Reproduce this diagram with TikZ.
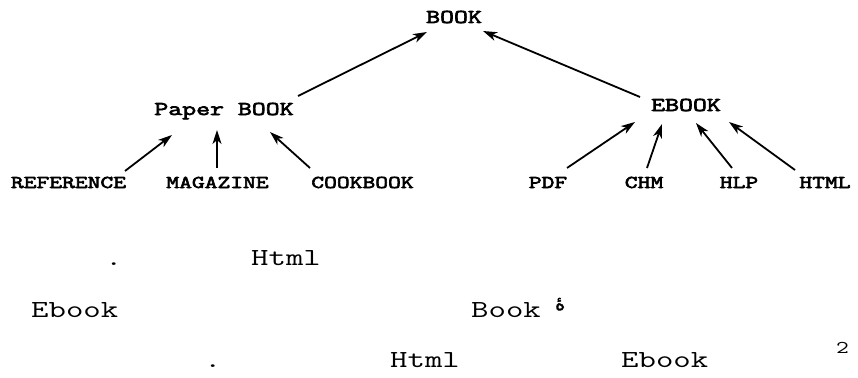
\documentclass[tikz,border=0pt]{standalone}
\usepackage{fontspec}
\usetikzlibrary{arrows.meta}
\TeXXeTstate=1
\newfontfamily\courfont[FakeStretch=1.38]{Latin Modern Mono}
\newfontfamily\courbold[FakeStretch=1.38,FakeBold=3.5]{Latin Modern Mono}
\newfontfamily\arabicfont[Script=Arabic,FakeBold=2]{DejaVu Sans}
\tikzset{
  top/.style={inner sep=0pt, anchor=base, font=\courbold\fontsize{19.6pt}{21pt}\selectfont},
  leaf/.style={inner sep=0pt, anchor=base, font=\courbold\fontsize{18pt}{20pt}\selectfont},
  body/.style={inner sep=0pt, anchor=base west, font=\courfont\fontsize{24.5pt}{26pt}\selectfont},
  arr/.style={-{Stealth[length=14pt,width=9pt,inset=4pt]}, line width=1.8pt},
}
\begin{document}
\begin{tikzpicture}[x=1pt,y=-1pt]
\useasboundingbox (0,0) rectangle (858,377);
% tree
\node[top] (book) at (454,23) {BOOK};
\node[top] (paper) at (224,115) {Paper BOOK};
\node[top] (ebook) at (686,111) {EBOOK};
\node[leaf] (ref) at (68.5,188) {REFERENCE};
\node[leaf] (mag) at (217.5,188) {MAGAZINE};
\node[leaf] (cook) at (362.5,188) {COOKBOOK};
\node[leaf] (pdf) at (548,188) {PDF};
\node[leaf] (chm) at (644,188) {CHM};
\node[leaf] (hlp) at (739,188) {HLP};
\node[leaf] (html) at (825,188) {HTML};
\draw[arr] ([shift={(56.5,-17)}]ref.base) -- ([shift={(-52,20)}]paper.base);
\draw[arr] ([shift={(-0.5,-20)}]mag.base) -- ([shift={(-7,15)}]paper.base);
\draw[arr] ([shift={(-52.5,-20)}]cook.base) -- ([shift={(46,17)}]paper.base);
\draw[arr] ([shift={(74,-19)}]paper.base) -- ([shift={(-27,9)}]book.base);
\draw[arr] ([shift={(-46,-14)}]ebook.base) -- ([shift={(29,8)}]book.base);
\draw[arr] ([shift={(19,-20)}]pdf.base) -- ([shift={(-51,11)}]ebook.base);
\draw[arr] ([shift={(3,-20)}]chm.base) -- ([shift={(-24,13)}]ebook.base);
\draw[arr] ([shift={(-7,-20)}]hlp.base) -- ([shift={(10,12)}]ebook.base);
\draw[arr] ([shift={(-30,-18)}]html.base) -- ([shift={(43,11)}]ebook.base);
% lower text
\node[body] (dot1) at (105,265) {.};
\node[body] (html1) at (251,265) {Html};
\node[body] (ebook2) at (31,317) {Ebook};
\node[body] (book2) at (471,317) {Book};
\node[inner sep=0pt, anchor=base west, font=\arabicfont\fontsize{19pt}{21pt}\selectfont] (ar) at (555,310) {\beginR هٔ\endR};
\node[body] (dot3) at (204,367) {.};
\node[body] (html3) at (390,367) {Html};
\node[body] (ebook3) at (621,367) {Ebook};
\node[inner sep=0pt, anchor=base west, font=\courfont\fontsize{18pt}{20pt}\selectfont] (two) at (836,353) {2};
\end{tikzpicture}
\end{document}
